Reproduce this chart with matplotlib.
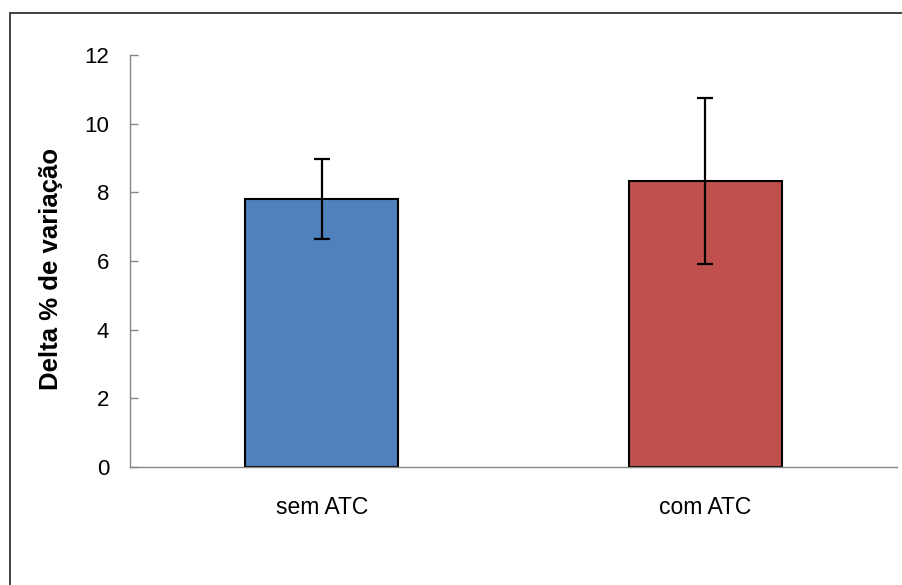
import matplotlib
matplotlib.use("Agg")
import matplotlib.pyplot as plt
from matplotlib.patches import Rectangle

# data
categories = ["sem ATC", "com ATC"]
values = [7.81, 8.33]
errors = [1.16, 2.42]
colors = ["#4F81BD", "#C0504D"]
yticks = [0, 2, 4, 6, 8, 10, 12]

plt.rcParams['font.family'] = ['Liberation Sans', 'DejaVu Sans']

fig = plt.figure(figsize=(9.02, 5.85), dpi=100)
ax = fig.add_axes([130 / 902, 118 / 585, 767 / 902, 412 / 585])

x = range(len(categories))
ax.bar(x, values, width=0.4, color=colors, edgecolor="black", linewidth=1.5, zorder=2)
ax.errorbar(x, values, yerr=errors, fmt="none", ecolor="black",
            elinewidth=1.6, capsize=5.5, capthick=1.6, zorder=3)

ax.set_xlim(-0.5, 1.5)
ax.set_ylim(0, 12)
ax.set_yticks(yticks)
ax.set_xticks(list(x))
ax.set_xticklabels(categories, fontsize=16.5)
ax.tick_params(axis="x", length=0, pad=21)
ax.tick_params(axis="y", direction="in", length=6, width=1, color="#868686",
               labelsize=16, pad=15)

for s in ["top", "right"]:
    ax.spines[s].set_visible(False)
for s in ["left", "bottom"]:
    ax.spines[s].set_color("#868686")
    ax.spines[s].set_linewidth(1)

ax.set_ylabel("Delta % de variação", fontsize=18.5, fontweight="bold",
              va="center", ha="center")
ax.yaxis.set_label_coords(-0.103, 0.48)

# chart area border (only left and top visible in crop)
fig.patches.append(Rectangle((10 / 902, -0.1), 1.2, (585 - 13) / 585 + 0.1,
                             transform=fig.transFigure, fill=False,
                             edgecolor="#333333", linewidth=1.3))

fig.savefig("out.png", dpi=100)
